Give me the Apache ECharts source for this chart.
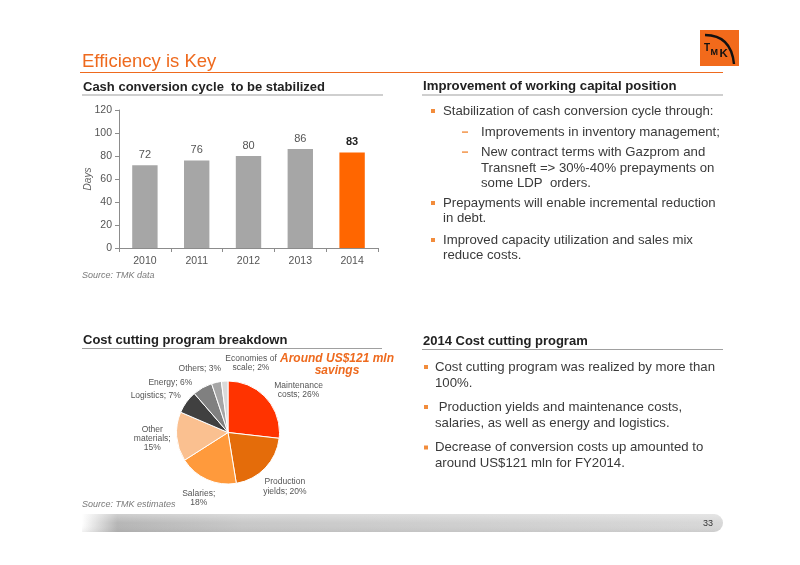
<!DOCTYPE html>
<html>
<head>
<meta charset="utf-8">
<script src="https://cdn.jsdelivr.net/npm/echarts@6/dist/echarts.min.js"></script>
<style>
html,body{margin:0;padding:0;background:#fff;}
#chart{width:800px;height:565px;}
</style>
</head>
<body>
<div id="chart"></div>
<script>
// ---- data ----
var years = ['2010', '2011', '2012', '2013', '2014'];
var cccDays = [72, 76, 80, 86, 83];
var yTicks = [0, 20, 40, 60, 80, 100, 120];

var costNames = ['Maintenance costs', 'Production yields', 'Salaries', 'Other materials', 'Logistics', 'Energy', 'Others', 'Economies of scale'];
var costShares = [26, 20, 18, 15, 7, 6, 3, 2];
var costLabelTpl = ['Maintenance\ncosts; {v}%', 'Production\nyields; {v}%', 'Salaries;\n{v}%', 'Other\nmaterials;\n{v}%', 'Logistics; {v}%', 'Energy; {v}%', 'Others; {v}%', 'Economies of\nscale; {v}%'];
var costColors = ['#FF3300', '#E46C0A', '#FF9A3C', '#FAC090', '#404040', '#808080', '#A6A6A6', '#D9D9D9'];

var FONT = '"Liberation Sans", Arial, sans-serif';
var ORANGE = '#EE6A1E';
var TXT = '#3a3a3a';

// pie geometry / label style
var PIE_C = [228, 432.5], PIE_R = 51.5, LBL_FS = 8.5, LBL_LH = 9.2, LBL_GAP = 5, LBL_PAD = 4;
// area occupied by the "Around US$121 mln savings" note, kept free of slice labels
var NOTE_BOX = { x0: 280, x1: 395, y0: 351, y1: 378 };

// ---- outside-end label layout (labels centred on slice mid-angle, spread apart when boxes collide) ----
var labelTexts = costLabelTpl.map(function (tpl, i) { return tpl.replace('{v}', costShares[i]); });
var mctx = document.createElement('canvas').getContext('2d');
mctx.font = LBL_FS + 'px ' + FONT;
var boxes = labelTexts.map(function (s) {
  var lines = s.split('\n');
  var w = 0;
  lines.forEach(function (l) { w = Math.max(w, mctx.measureText(l).width); });
  return { w: w, h: lines.length * LBL_LH };
});
var total = costShares.reduce(function (a, b) { return a + b; }, 0);
var angles = [];
(function () { var acc = 0; costShares.forEach(function (v) { angles.push((acc + v / 2) / total * 360); acc += v; }); })();
function boxAt(ang, b) {
  var r = ang * Math.PI / 180, dx = Math.sin(r), dy = -Math.cos(r);
  var d = PIE_R + LBL_GAP + Math.abs(dx) * b.w / 2 + Math.abs(dy) * b.h / 2;
  var cx = PIE_C[0] + dx * d, cy = PIE_C[1] + dy * d;
  return { cx: cx, cy: cy, x0: cx - b.w / 2, x1: cx + b.w / 2, y0: cy - b.h / 2, y1: cy + b.h / 2 };
}
function hit(a, b, pad) { return a.x0 < b.x1 + pad && b.x0 < a.x1 + pad && a.y0 < b.y1 + pad && b.y0 < a.y1 + pad; }
for (var it = 0; it < 800; it++) {
  var moved = false;
  for (var i = 0; i < angles.length; i++) {
    var j = (i + 1) % angles.length;
    var aj = angles[j] + (j === 0 ? 360 : 0);
    if (hit(boxAt(angles[i], boxes[i]), boxAt(aj, boxes[j]), LBL_PAD)) {
      angles[i] -= 0.5; angles[j] += 0.5; moved = true;
    }
    var bi = boxAt(angles[i], boxes[i]);
    if (hit(bi, NOTE_BOX, 3)) {
      // move away from the note: counter-clockwise if label sits above it, clockwise otherwise
      angles[i] += (bi.cy < (NOTE_BOX.y0 + NOTE_BOX.y1) / 2 || bi.cx < NOTE_BOX.x0) ? -0.5 : 0.5;
      moved = true;
    }
  }
  if (!moved) break;
}
var labelPos = angles.map(function (a, i) { return boxAt(a, boxes[i]); });

var chart = echarts.init(document.getElementById('chart'));

function t(x, y, text, opt) {
  opt = opt || {};
  return {
    type: 'text', x: x, y: y, silent: true,
    style: {
      text: text, x: 0, y: 0,
      fill: opt.fill || TXT,
      font: (opt.style || 'normal') + ' ' + (opt.weight || 'normal') + ' ' + (opt.size || 13) + 'px ' + FONT,
      textAlign: opt.align || 'left',
      textVerticalAlign: 'middle'
    }
  };
}
function line(x1, y1, x2, y2, color, w) {
  return { type: 'line', silent: true, shape: { x1: x1, y1: y1, x2: x2, y2: y2 }, style: { stroke: color, lineWidth: w || 1 } };
}
function bullet(x, y) {
  return { type: 'rect', silent: true, shape: { x: x, y: y - 2, width: 4, height: 4 }, style: { fill: '#F28C3C' } };
}
function dash(x, y) {
  return { type: 'rect', silent: true, shape: { x: x, y: y - 0.6, width: 6, height: 1.4 }, style: { fill: '#F28C3C' } };
}

var graphics = [
  // title
  t(82, 62, 'Efficiency is Key', { size: 18.5, fill: ORANGE }),
  line(80, 72.5, 723, 72.5, ORANGE, 1.2),
  // logo
  { type: 'rect', silent: true, shape: { x: 700, y: 30, width: 39, height: 36 }, style: { fill: '#F26A1B' } },
  { type: 'bezierCurve', silent: true, shape: { x1: 705, y1: 35, cpx1: 731, cpy1: 35, x2: 734, y2: 64 }, style: { stroke: '#111', lineWidth: 2.4, fill: null } },
  t(704, 48.5, 'T', { size: 10, weight: 'bold', fill: '#111' }),
  t(710.5, 52.5, 'M', { size: 9, weight: 'bold', fill: '#111' }),
  t(719.5, 54, 'K', { size: 11.5, weight: 'bold', fill: '#111' }),
  // left top header
  t(83, 87, 'Cash conversion cycle  to be stabilized', { size: 13, weight: 'bold', fill: '#222' }),
  line(82, 95, 383, 95, '#A0A0A0', 1.2),
  t(82, 275, 'Source: TMK data', { size: 9, style: 'italic', fill: '#7a7a7a' }),
  // right top
  t(423, 86, 'Improvement of working capital position', { size: 13.2, weight: 'bold', fill: '#222' }),
  line(422, 95, 723, 95, '#A0A0A0', 1.2),
  bullet(431, 111), t(443, 111, 'Stabilization of cash conversion cycle through:', { size: 13.2 }),
  dash(462, 132), t(481, 132, 'Improvements in inventory management;', { size: 13.2 }),
  dash(462, 152), t(481, 152, 'New contract terms with Gazprom and', { size: 13.2 }),
  t(481, 168, 'Transneft => 30%-40% prepayments on', { size: 13.2 }),
  t(481, 183.5, 'some LDP  orders.', { size: 13.2 }),
  bullet(431, 203), t(443, 203, 'Prepayments will enable incremental reduction', { size: 13.2 }),
  t(443, 218.5, 'in debt.', { size: 13.2 }),
  bullet(431, 240), t(443, 240, 'Improved capacity utilization and sales mix', { size: 13.2 }),
  t(443, 255, 'reduce costs.', { size: 13.2 }),
  // left bottom
  t(83, 340, 'Cost cutting program breakdown', { size: 13, weight: 'bold', fill: '#222' }),
  line(82, 348.5, 382, 348.5, '#A0A0A0', 1.2),
  t(337, 359, 'Around US$121 mln', { size: 12, weight: 'bold', style: 'italic', fill: ORANGE, align: 'center' }),
  t(337, 371, 'savings', { size: 12, weight: 'bold', style: 'italic', fill: ORANGE, align: 'center' }),
  t(82, 504, 'Source: TMK estimates', { size: 9, style: 'italic', fill: '#7a7a7a' }),
  // right bottom
  t(423, 341.5, '2014 Cost cutting program', { size: 13, weight: 'bold', fill: '#222' }),
  line(422, 349.5, 723, 349.5, '#A0A0A0', 1.2),
  bullet(424, 367), t(435, 367, 'Cost cutting program was realized by more than', { size: 13.2 }),
  t(435, 383, '100%.', { size: 13.2 }),
  bullet(424, 407), t(435, 407, ' Production yields and maintenance costs,', { size: 13.2 }),
  t(435, 423, 'salaries, as well as energy and logistics.', { size: 13.2 }),
  bullet(424, 447.5), t(435, 447.5, 'Decrease of conversion costs up amounted to', { size: 13.2 }),
  t(435, 463.5, 'around US$121 mln for FY2014.', { size: 13.2 }),
  // footer
  { type: 'rect', silent: true, shape: { x: 82, y: 514, width: 641, height: 18, r: [0, 9, 9, 0] },
    style: { fill: new echarts.graphic.LinearGradient(0, 0, 1, 0, [
      { offset: 0, color: '#ffffff' }, { offset: 0.055, color: '#b6b6b6' }, { offset: 0.25, color: '#c8c8c8' }, { offset: 1, color: '#d8d8d8' }]) } },
  { type: 'rect', silent: true, shape: { x: 82, y: 514, width: 641, height: 18, r: [0, 9, 9, 0] },
    style: { fill: new echarts.graphic.LinearGradient(0, 0, 0, 1, [
      { offset: 0, color: 'rgba(255,255,255,0.35)' }, { offset: 0.5, color: 'rgba(255,255,255,0)' }, { offset: 1, color: 'rgba(0,0,0,0.05)' }]) } },
  t(708, 524, '33', { size: 9, fill: '#333', align: 'center' })
];

var option = {
  backgroundColor: '#ffffff',
  animation: false,
  textStyle: { fontFamily: FONT },
  grid: { left: 119, right: 422, top: 110, bottom: 317, containLabel: false },
  xAxis: {
    type: 'category', data: years,
    axisLine: { lineStyle: { color: '#8c8c8c', width: 1 } },
    axisTick: { show: true, length: 4, lineStyle: { color: '#8c8c8c' } },
    axisLabel: { color: '#555', fontSize: 10.5, margin: 8, fontFamily: FONT }
  },
  yAxis: {
    type: 'value', min: yTicks[0], max: yTicks[yTicks.length - 1], interval: 20,
    name: 'Days', nameLocation: 'middle', nameGap: 26, nameMoveOverlap: false,
    nameTextStyle: { fontStyle: 'italic', fontSize: 10, color: '#666', fontFamily: FONT },
    axisLine: { show: true, lineStyle: { color: '#8c8c8c', width: 1 } },
    axisTick: { show: true, length: 4, lineStyle: { color: '#8c8c8c' } },
    splitLine: { show: false },
    axisLabel: { color: '#555', fontSize: 10.5, margin: 7, fontFamily: FONT }
  },
  series: [
    {
      type: 'bar', barWidth: '49%',
      data: cccDays.map(function (v, i) {
        var last = i === cccDays.length - 1;
        return {
          value: v,
          itemStyle: { color: last ? '#FF6600' : '#A6A6A6' },
          label: last ? { fontWeight: 'bold', color: '#222' } : {}
        };
      }),
      label: { show: true, position: 'top', distance: 5, fontSize: 11, color: '#555', fontFamily: FONT }
    },
    {
      type: 'pie', center: PIE_C, radius: PIE_R, startAngle: 90, clockwise: true,
      avoidLabelOverlap: false,
      itemStyle: { borderColor: '#fff', borderWidth: 1 },
      label: {
        show: true, position: 'outside', fontSize: LBL_FS, lineHeight: LBL_LH, color: '#555', fontFamily: FONT,
        formatter: function (p) { return labelTexts[p.dataIndex]; }
      },
      labelLine: { show: false, length: 6, length2: 0 },
      labelLayout: function (p) {
        var lp = labelPos[p.dataIndex];
        return { x: lp.cx, y: lp.cy, align: 'center', verticalAlign: 'middle', hideOverlap: false, moveOverlap: null };
      },
      emphasis: { disabled: true },
      data: costNames.map(function (n, i) {
        return { name: n, value: costShares[i], itemStyle: { color: costColors[i] } };
      })
    }
  ],
  graphic: graphics
};
chart.setOption(option);
</script>
</body>
</html>
